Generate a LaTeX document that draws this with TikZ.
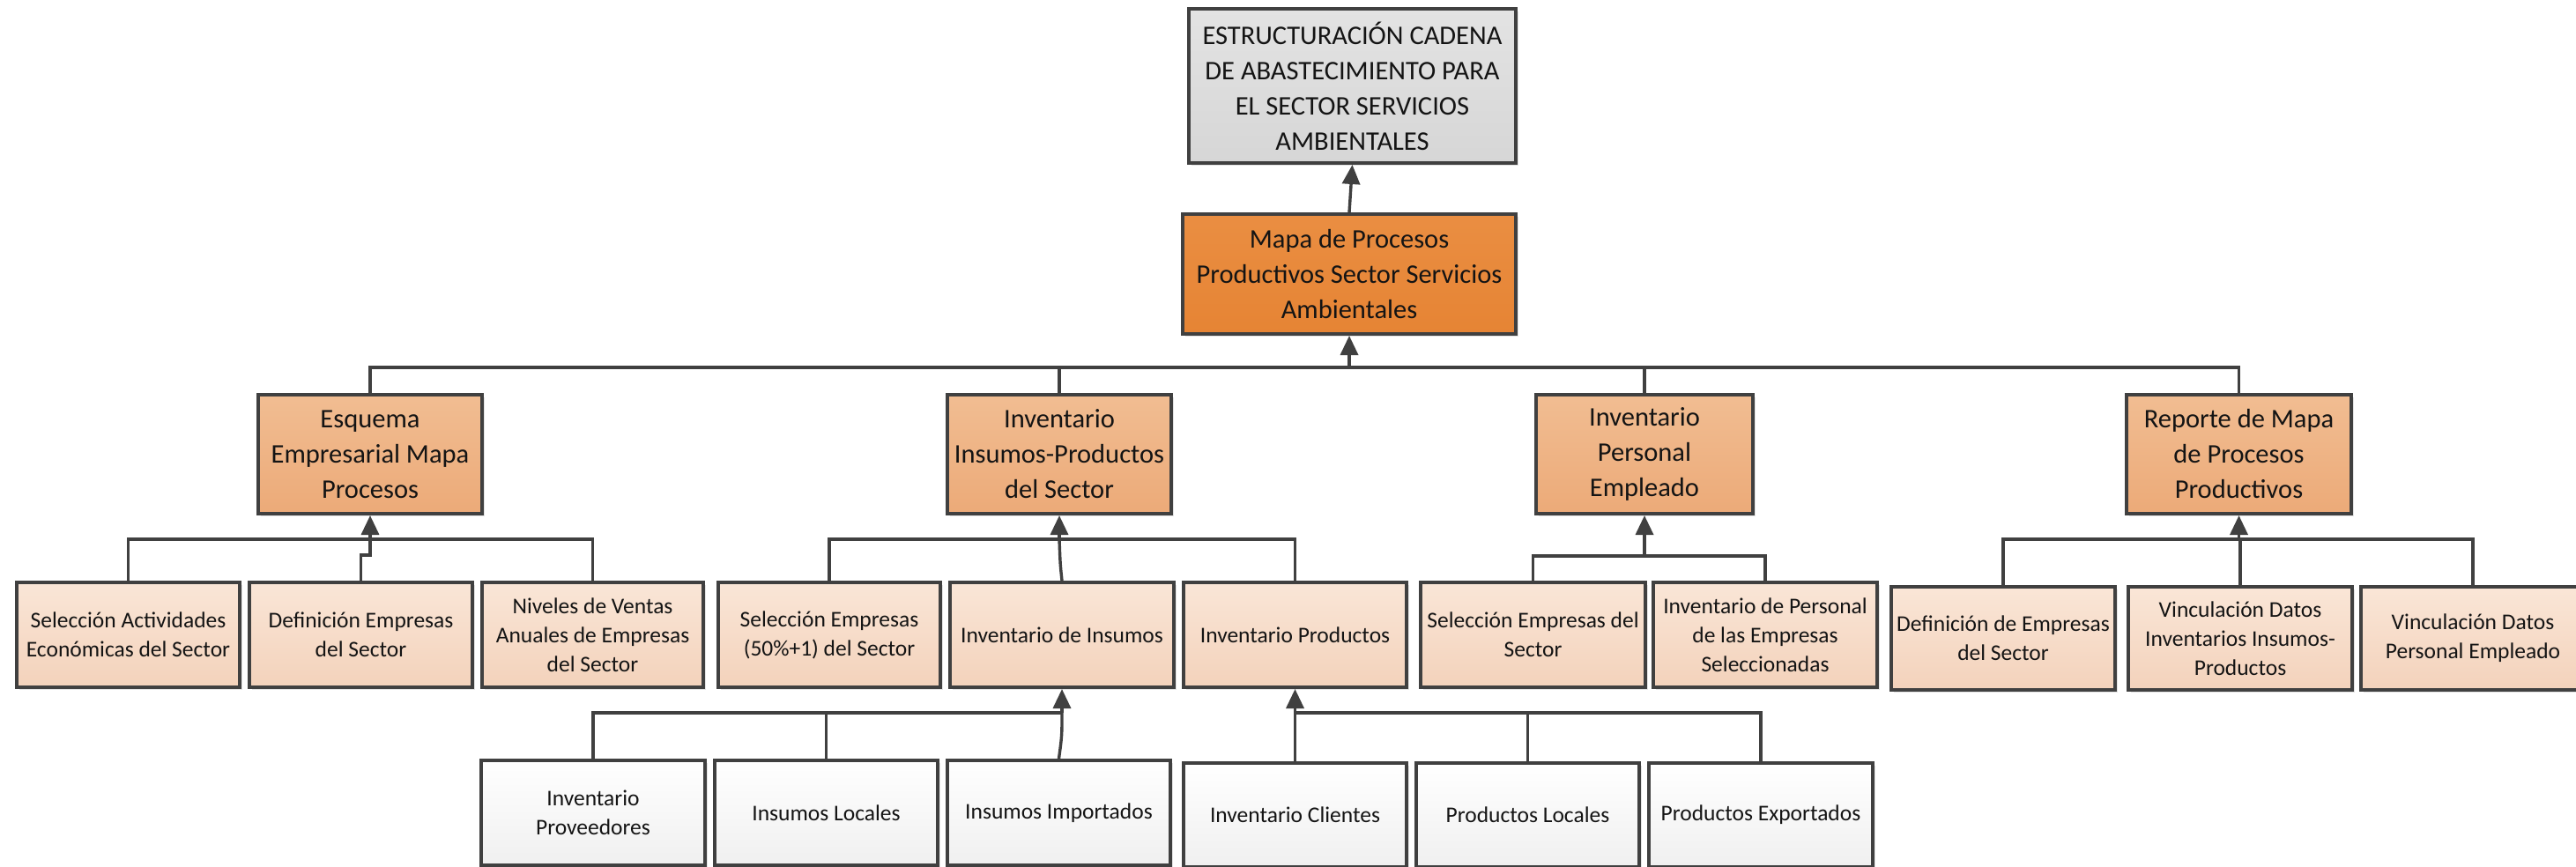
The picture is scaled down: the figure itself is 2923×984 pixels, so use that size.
\documentclass[tikz,border=0pt]{standalone}
\usepackage{fontspec}
\setmainfont{Carlito}
\usetikzlibrary{arrows.meta,shadows}
\definecolor{edge}{HTML}{404040}
\definecolor{txt}{HTML}{141414}
\newcommand\bigtxt{\fontsize{15.25pt}{20pt}\selectfont}
\newcommand\smalltxt{\fontsize{12.75pt}{16.5pt}\selectfont}
% \bx{name}{style}{x1}{y1}{x2}{y2}{text}  (pixel coordinates, y down)
\newcommand\bx[7]{\node[#2, minimum width={(#5-#3)*0.5pt}, minimum height={(#6-#4)*0.5pt}] (#1) at ({(#3+#5)/2},{(#4+#6)/2}) {#7};}
\begin{document}
\begin{tikzpicture}[x=0.5pt,y=-0.5pt,
  basebox/.style={draw=edge, line width=2pt, rectangle, inner sep=0pt, align=center, text=txt,
    drop shadow={shadow xshift=1.5pt, shadow yshift=-1.5pt, fill=black!30, opacity=0.35}},
  topbox/.style={basebox, top color=gray!22, bottom color=gray!32, font=\bigtxt},
  mapbox/.style={basebox, top color={rgb,255:red,234;green,142;blue,66}, bottom color={rgb,255:red,230;green,132;blue,52}, font=\bigtxt},
  lvlone/.style={basebox, top color={rgb,255:red,241;green,189;blue,146}, bottom color={rgb,255:red,236;green,170;blue,120}, font=\bigtxt},
  lvltwo/.style={basebox, top color={rgb,255:red,250;green,230;blue,215}, bottom color={rgb,255:red,243;green,210;blue,187}, font=\smalltxt},
  lvlthree/.style={basebox, top color=white, bottom color=black!6, font=\smalltxt},
  conn/.style={draw=edge, line width=1.7pt},
  arr/.style={conn, -{Triangle[length=11pt,width=10pt]}}
]
\useasboundingbox (0,0) rectangle (2923,984);
\fill[white] (0,0) rectangle (2923,984);

% top levels
\bx{top}{topbox}{1349}{10}{1720}{185}{ESTRUCTURACIÓN CADENA\\DE ABASTECIMIENTO PARA\\EL SECTOR SERVICIOS\\AMBIENTALES}
\bx{mapa}{mapbox}{1342}{243}{1720}{379}{Mapa de Procesos\\Productivos Sector Servicios\\Ambientales}

% level 1
\bx{esq}{lvlone}{293}{448}{547}{583}{Esquema\\Empresarial Mapa\\Procesos}
\bx{invip}{lvlone}{1075}{448}{1329}{583}{Inventario\\Insumos-Productos\\del Sector}
\bx{invper}{lvlone}{1743}{448}{1989}{583}{Inventario\\Personal\\Empleado}
\bx{rep}{lvlone}{2413}{448}{2668}{583}{Reporte de Mapa\\de Procesos\\Productivos}

% level 2
\bx{selact}{lvltwo}{19}{661}{272}{780}{Selección Actividades\\Económicas del Sector}
\bx{defemp}{lvltwo}{283}{661}{536}{780}{Definición Empresas\\del Sector}
\bx{niv}{lvltwo}{547}{661}{798}{780}{Niveles de Ventas\\Anuales de Empresas\\del Sector}
\bx{selcin}{lvltwo}{815}{661}{1067}{780}{Selección Empresas\\(50\%+1) del Sector}
\bx{invins}{lvltwo}{1078}{661}{1332}{780}{Inventario de Insumos}
\bx{invprod}{lvltwo}{1343}{661}{1596}{780}{Inventario Productos}
\bx{selsec}{lvltwo}{1612}{661}{1867}{780}{Selección Empresas del\\Sector}
\bx{invpers}{lvltwo}{1876}{661}{2130}{780}{Inventario de Personal\\de las Empresas\\Seleccionadas}
\bx{defde}{lvltwo}{2146}{666}{2400}{783}{Definición de Empresas\\del Sector}
\bx{vinins}{lvltwo}{2415}{666}{2669}{783}{Vinculación Datos\\Inventarios Insumos-\\Productos}
\bx{vinper}{lvltwo}{2679}{666}{2933}{783}{Vinculación Datos\\Personal Empleado}

% level 3
\bx{invprov}{lvlthree}{546}{863}{800}{982}{Inventario\\Proveedores}
\bx{insloc}{lvlthree}{811}{863}{1064}{982}{Insumos Locales}
\bx{insimp}{lvlthree}{1075}{863}{1328}{982}{Insumos Importados}
\bx{invcli}{lvlthree}{1343}{866}{1596}{984}{Inventario Clientes}
\bx{prodloc}{lvlthree}{1607}{866}{1860}{984}{Productos Locales}
\bx{prodexp}{lvlthree}{1871}{866}{2125}{984}{Productos Exportados}

% connectors: top
\draw[arr] (mapa.north) -- (top.south);

% main bus
\coordinate (bus0) at (1531,417);
\draw[conn] (esq.north) |- (bus0) -| (rep.north);
\draw[conn] (invip.north) -- (invip.north |- bus0);
\draw[conn] (invper.north) -- (invper.north |- bus0);
\draw[arr] (bus0) -- (mapa.south);

% Esquema group
\coordinate (b1) at (420,612);
\draw[conn] (selact.north) |- (b1) -| (niv.north);
\draw[conn] (defemp.north) -- ++(0,-29) -| (b1);
\draw[arr] (b1) -- (esq.south);

% Inventario insumos-productos group
\coordinate (b2) at (1202,612);
\draw[conn] (selcin.north) |- (b2) -| (invprod.north);
\draw[conn] (invins.north) .. controls (1203,640) .. (b2);
\draw[arr] (b2) -- (invip.south);

% Inventario personal group
\coordinate (b3) at (1866,631);
\draw[conn] (selsec.north) |- (b3) -| (invpers.north);
\draw[arr] (b3) -- (invper.south);

% Reporte group
\coordinate (b4) at (2540.5,612);
\draw[conn] (defde.north) |- (b4) -| (vinper.north);
\draw[conn] (vinins.north) -- (vinins.north |- b4);
\draw[arr] (b4) -- (rep.south);

% Insumos group
\coordinate (b5) at (1205,809);
\draw[conn] (invprov.north) |- (b5);
\draw[conn] (insloc.north) -- (insloc.north |- b5);
\draw[conn] (insimp.north) .. controls (1205,835) .. (b5);
\draw[arr] (b5) -- (invins.south);

% Productos group
\coordinate (b6) at (1469.5,809);
\draw[conn] (invcli.north) -- (b6) -| (prodexp.north);
\draw[conn] (prodloc.north) -- (prodloc.north |- b6);
\draw[arr] (b6) -- (invprod.south);
\end{tikzpicture}
\end{document}
